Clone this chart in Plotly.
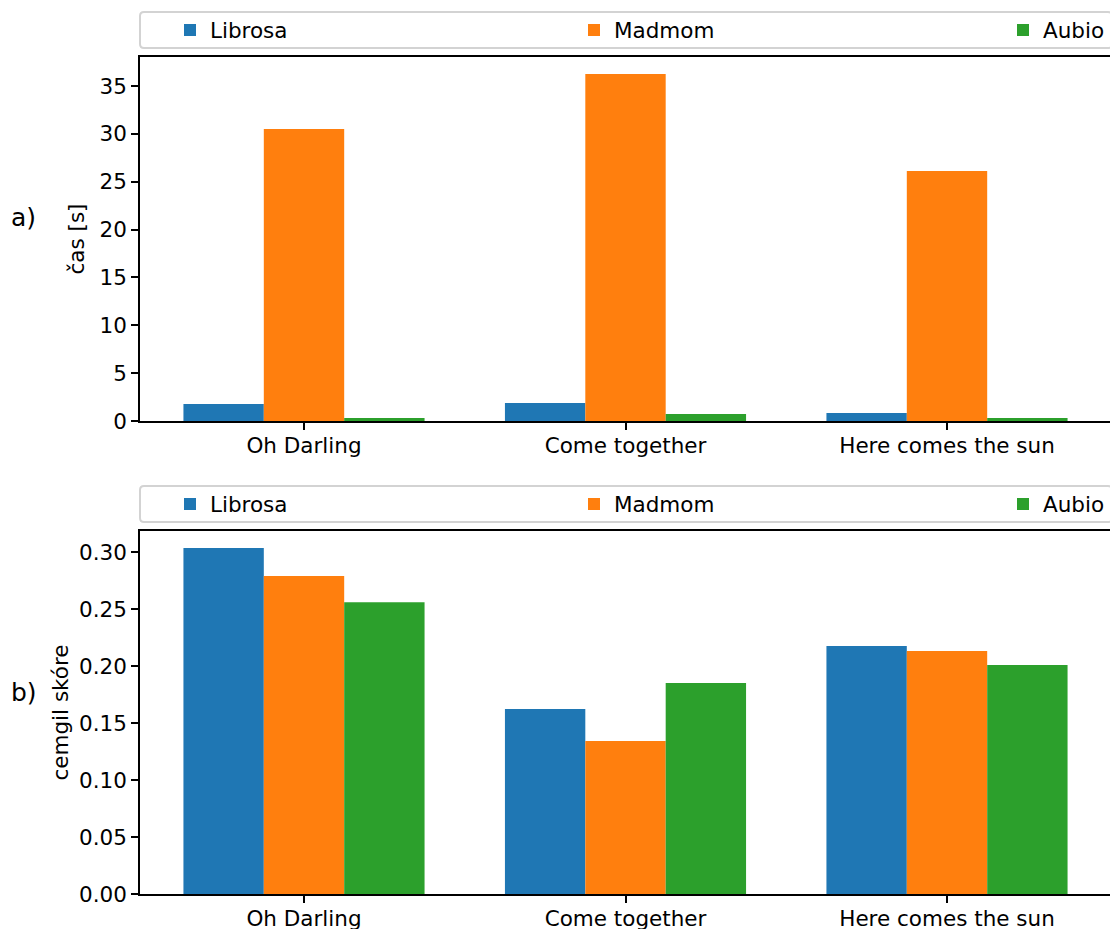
import plotly.graph_objects as go

songs = ["Oh Darling", "Come together", "Here comes the sun"]
methods = ["Librosa", "Madmom", "Aubio"]
colors = ["#1f77b4", "#ff7f0e", "#2ca02c"]

time_librosa = [1.78, 1.88, 0.84]
time_madmom = [30.51, 36.26, 26.12]
time_aubio = [0.31, 0.73, 0.31]

cemgil_librosa = [0.3035, 0.1623, 0.2175]
cemgil_madmom = [0.2790, 0.1342, 0.2132]
cemgil_aubio = [0.2560, 0.1851, 0.2009]

time_series = [time_librosa, time_madmom, time_aubio]
cemgil_series = [cemgil_librosa, cemgil_madmom, cemgil_aubio]

W, H = 1110, 929
FONT = "DejaVu Sans"
FS = 21.5


def px(x):
    return x / W


def py(y):
    return 1 - y / H


fig = go.Figure()

legend_text_x = [210, 614, 1043]
legend_names_top = ["legend", "legend2", "legend3"]
legend_names_bot = ["legend4", "legend5", "legend6"]

for i, m in enumerate(methods):
    fig.add_trace(go.Bar(x=songs, y=time_series[i], name=m, marker_color=colors[i],
                         marker_line_width=0, xaxis="x", yaxis="y",
                         legend=legend_names_top[i], offsetgroup=str(i), showlegend=True))
for i, m in enumerate(methods):
    fig.add_trace(go.Bar(x=songs, y=cemgil_series[i], name=m, marker_color=colors[i],
                         marker_line_width=0, xaxis="x2", yaxis="y2",
                         legend=legend_names_bot[i], offsetgroup=str(i), showlegend=True))

axis_common = dict(showline=True, linecolor="black", linewidth=1.6,
                   ticks="outside", ticklen=7, tickwidth=1.6, tickcolor="black",
                   tickfont=dict(family=FONT, size=FS, color="black"),
                   showgrid=False, zeroline=False)

xr = [(140 - 304) / 321.5, (1110 - 304) / 321.5]

legend_common = dict(bgcolor="rgba(0,0,0,0)", borderwidth=0, xanchor="left",
                     yanchor="middle", orientation="h", itemwidth=30,
                     font=dict(family=FONT, size=FS, color="black"),
                     itemclick=False, itemdoubleclick=False)

layout = dict(
    width=W, height=H,
    showlegend=True,
    margin=dict(l=0, r=0, t=0, b=0, autoexpand=False),
    paper_bgcolor="white", plot_bgcolor="white",
    barmode="group", bargap=0.25, bargroupgap=0,
    font=dict(family=FONT, size=FS, color="black"),
    xaxis=dict(domain=[px(140), 1], range=xr, anchor="y", mirror=True,
               ticklabelstandoff=-3, **axis_common),
    yaxis=dict(domain=[py(421), py(57)], range=[0, 38.03], anchor="x",
               tickvals=[0, 5, 10, 15, 20, 25, 30, 35],
               title=dict(text="čas [s]", font=dict(family=FONT, size=FS, color="black"), standoff=9),
               **axis_common),
    xaxis2=dict(domain=[px(140), 1], range=xr, anchor="y2", mirror=True,
                ticklabelstandoff=-3, **axis_common),
    yaxis2=dict(domain=[py(894), py(531)], range=[0, 0.3184], anchor="x2",
                tickvals=[0, 0.05, 0.10, 0.15, 0.20, 0.25, 0.30], tickformat=".2f",
                title=dict(text="cemgil skóre", font=dict(family=FONT, size=FS, color="black"), standoff=5),
                **axis_common),
)

for i in range(3):
    layout[legend_names_top[i]] = dict(x=px(legend_text_x[i] - 40), y=py(30), **legend_common)
    layout[legend_names_bot[i]] = dict(x=px(legend_text_x[i] - 40), y=py(504), **legend_common)

fig.update_layout(**layout)


def rounded_box(x0, y0, x1, y1, r=4):
    X0, X1 = px(x0), px(x1)
    Y0, Y1 = py(y0), py(y1)
    rx, ry = r / W, r / H
    return (f"M {X0+rx},{Y0} L {X1-rx},{Y0} Q {X1},{Y0} {X1},{Y0-ry} "
            f"L {X1},{Y1+ry} Q {X1},{Y1} {X1-rx},{Y1} L {X0+rx},{Y1} "
            f"Q {X0},{Y1} {X0},{Y1+ry} L {X0},{Y0-ry} Q {X0},{Y0} {X0+rx},{Y0} Z")


for (y0, y1) in [(12, 48), (486, 522)]:
    fig.add_shape(type="path", xref="paper", yref="paper",
                  path=rounded_box(140, y0, 1112, y1),
                  line=dict(color="#d3d3d3", width=2), fillcolor="rgba(0,0,0,0)",
                  layer="below")

fig.add_annotation(text="a)", x=px(23.5), y=py(218), xref="paper", yref="paper",
                   xanchor="center", yanchor="middle",
                   showarrow=False, font=dict(family=FONT, size=25, color="black"))
fig.add_annotation(text="b)", x=px(23.5), y=py(692), xref="paper", yref="paper",
                   xanchor="center", yanchor="middle",
                   showarrow=False, font=dict(family=FONT, size=25, color="black"))

fig.write_html("out.html", config={"displayModeBar": False},
               post_script="document.body.style.margin='0px';")
